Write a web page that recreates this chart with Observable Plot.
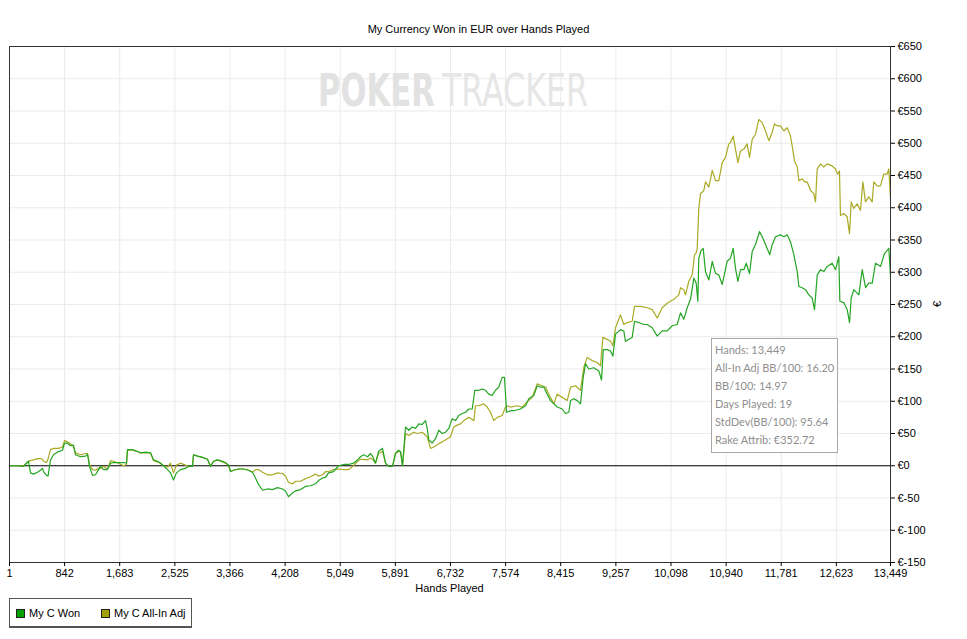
<!DOCTYPE html>
<html>
<head>
<meta charset="utf-8">
<script src="https://cdn.jsdelivr.net/npm/d3@7"></script>
<script src="https://cdn.jsdelivr.net/npm/@observablehq/plot@0.6"></script>
<style>
  html, body { margin: 0; padding: 0; background: #fff; }
  #wrap { position: relative; width: 967px; height: 639px; font-family: "Liberation Sans", Arial, sans-serif; }
  #title { position: absolute; top: 23px; left: 0; width: 957px; text-align: center; font-size: 11px; color: #000; }
  #xlabel { position: absolute; top: 582px; left: 9px; width: 881px; text-align: center; font-size: 11px; color: #000; }
  #ylabel { position: absolute; top: 298px; left: 934px; font-size: 11px; transform: rotate(-90deg); color: #000; }
  #stats { position: absolute; left: 711px; top: 338px; width: 125px; height: 113px; border: 1px solid #a8a8a8; background: #fff;
           font-family: Lato, "Open Sans", sans-serif; font-size: 11px; color: #8f8f8f; }
  #stats div { position: absolute; left: 3px; line-height: 14px; white-space: nowrap; }
  #legend { position: absolute; left: 9px; top: 598px; width: 181px; height: 27px; border: 1px solid #555; border-bottom: 2px solid #555;
            font-size: 11px; color: #000; }
  .item { position: absolute; top: 8px; white-space: nowrap; }
  .sw { display: inline-block; width: 7px; height: 7px; border: 1px solid #222; vertical-align: -1px; margin-right: 4px; }
  svg { position: absolute; left: 0; top: 0; }
</style>
</head>
<body>
<div id="wrap">
  <div id="chart"></div>
  <div id="title"></div>
  <div id="xlabel"></div>
  <div id="ylabel"></div>
  <div id="stats"></div>
  <div id="legend"></div>
</div>
<script>
const titleText = "My Currency Won in EUR over Hands Played";
const xLabel = "Hands Played";
const yLabel = "€";
const seriesNames = ["My C Won", "My C All-In Adj"];
const seriesColors = ["#24a524", "#aaaa24"];
const legendColors = ["#00a000", "#a0a000"];
const statsLines = ["Hands: 13,449", "All-In Adj BB/100: 16.20", "BB/100: 14.97", "Days Played: 19", "StdDev(BB/100): 95.64", "Rake Attrib: €352.72"];
const xTicks = [1, 842, 1683, 2525, 3366, 4208, 5049, 5891, 6732, 7574, 8415, 9257, 10098, 10940, 11781, 12623, 13449];
const yTicks = [-150, -100, -50, 0, 50, 100, 150, 200, 250, 300, 350, 400, 450, 500, 550, 600, 650];

// first part (both series read at the same hands)
const earlyHands = [16,123,215,291,322,367,428,474,505,520,566,589,612,627,673,749,810,841,886,932,978,1008,1085,1161,1192,1222,1268,1314,1360,1390,1436,1497,1543,1589,1665,1741,1787,1802,1879,1955,2001,2077,2153,2199,2260,2306,2352,2413,2459,2504,2550,2611,2688,2733,2794,2810,2871,2947,3023,3069,3115,3176,3222,3298,3344,3375,3420,3497,3573,3649,3710,3756,3802,3863,3939,4016,4092,4168,4214,4260,4321,4367,4443,4519,4596,4672,4718,4779,4825,4871,4947,5023,5100,5176,5252,5313,5359,5405,5466,5512,5542,5588,5634,5695,5741,5786,5847,5893,5939,5970,6000];
const earlyWon = [0,0,-1,7,-11,-13,-10,-7,-4,-9,-15,-16,-1,9,17,22,24,35,35,31,32,17,14,15,18,-1,-15,-14,-6,-1,-6,-6,4,5,5,5,4,25,25,22,20,21,20,9,7,4,0,-6,-11,-22,-11,-6,-4,-1,-1,17,15,13,10,-1,7,9,8,5,1,-9,-7,-5,-5,-7,-10,-19,-29,-38,-36,-37,-34,-36,-39,-48,-42,-39,-37,-32,-31,-28,-23,-19,-18,-11,-9,0,2,2,4,9,14,17,14,19,15,4,22,27,4,-1,-1,19,24,22,0];
const earlyAdj = [0,0,0,7,8,9,11,11,10,7,5,10,20,25,27,27,29,39,37,34,30,20,17,19,19,2,-6,-7,-4,-4,-1,-5,8,7,4,0,2,24,24,22,20,20,20,8,6,4,0,-2,4,-11,1,4,1,-1,-1,17,15,13,10,0,7,9,7,4,1,-9,-7,-5,-5,-7,-10,-6,-6,-10,-14,-14,-11,-12,-16,-26,-28,-24,-24,-20,-17,-13,-16,-14,-9,-9,-6,-5,-6,-6,0,7,10,10,9,12,10,4,19,22,4,-1,-1,19,22,22,0];

// later part, My C Won
const wonHandsLate = [6046,6096,6148,6199,6249,6301,6351,6377,6402,6453,6504,6554,6606,6657,6707,6758,6809,6860,6911,6962,7012,7064,7104,7165,7217,7267,7317,7369,7420,7470,7522,7557,7588,7649,7725,7801,7878,7928,8004,8056,8107,8157,8209,8259,8310,8361,8438,8488,8539,8565,8615,8667,8717,8758,8794,8844,8920,8997,9038,9064,9125,9175,9211,9252,9328,9378,9403,9455,9506,9542,9607,9683,9735,9812,9888,9964,10041,10117,10193,10244,10294,10346,10396,10447,10483,10508,10523,10559,10590,10625,10676,10728,10778,10828,10880,10956,11007,11048,11083,11119,11160,11210,11247,11297,11338,11389,11449,11491,11541,11606,11644,11694,11770,11821,11873,11923,11974,12025,12050,12101,12152,12202,12254,12289,12331,12381,12431,12483,12559,12610,12660,12676,12736,12788,12824,12849,12889,12966,13017,13068,13118,13170,13220,13297,13357,13424,13449];
const wonEurLate = [60,55,60,58,65,64,70,58,40,35,42,55,50,52,58,73,70,78,81,83,88,88,117,117,119,117,111,109,117,122,137,137,83,85,86,88,93,104,109,124,122,122,111,101,96,91,88,81,83,101,104,101,96,137,158,150,152,147,133,180,180,178,170,204,211,209,193,196,199,224,222,219,219,214,201,209,209,217,219,237,227,245,258,291,283,255,322,334,337,301,288,317,298,296,281,317,322,337,306,286,304,304,314,298,332,343,363,355,343,327,343,355,358,355,358,347,327,301,278,276,273,265,260,242,296,304,301,309,314,304,324,255,253,242,222,260,273,265,304,276,283,283,314,309,329,337,293];

// later part, My C All-In Adj
const adjHandsLate = [6046,6096,6173,6223,6301,6377,6428,6478,6554,6606,6682,6732,6784,6834,6885,6936,7012,7089,7114,7165,7241,7293,7343,7394,7445,7522,7572,7598,7649,7751,7827,7903,7980,8056,8132,8183,8234,8310,8361,8438,8514,8565,8641,8717,8768,8819,8895,8971,9022,9058,9125,9175,9211,9252,9328,9378,9429,9506,9542,9633,9735,9812,9888,9964,10041,10142,10218,10244,10294,10320,10370,10422,10457,10483,10498,10523,10549,10574,10600,10625,10676,10728,10778,10828,10880,10931,10981,11007,11048,11083,11119,11160,11210,11260,11297,11338,11389,11439,11491,11541,11592,11644,11678,11720,11770,11821,11873,11923,11948,11983,12025,12050,12101,12136,12177,12228,12278,12304,12330,12381,12430,12482,12558,12609,12644,12670,12685,12735,12787,12823,12849,12888,12940,12991,13027,13067,13117,13169,13194,13246,13296,13346,13397,13423,13449];
const adjEurLate = [50,47,52,50,52,45,27,29,34,37,42,45,60,63,65,70,75,70,93,93,96,91,83,70,75,78,91,93,91,93,91,99,106,127,124,122,111,96,111,106,101,122,124,117,153,168,163,160,155,199,196,193,186,214,234,219,222,224,247,247,245,242,229,245,252,258,265,276,273,265,286,296,327,330,337,399,422,424,427,440,432,458,442,442,470,478,499,501,511,491,470,488,491,499,478,506,514,537,532,519,504,517,530,527,527,519,524,511,496,473,463,442,445,440,440,427,422,409,460,468,463,468,465,460,452,457,388,391,386,360,409,399,406,396,440,409,417,409,440,434,434,452,452,460,414];

const toRows = (hs, vs) => hs.map((h, i) => ({hand: h, eur: vs[i]}));
const won = toRows(earlyHands.concat(wonHandsLate), earlyWon.concat(wonEurLate));
const adj = toRows(earlyHands.concat(adjHandsLate), earlyAdj.concat(adjEurLate));

const chart = Plot.plot({
  width: 967,
  height: 639,
  marginLeft: 9,
  marginRight: 77,
  marginTop: 46,
  marginBottom: 77,
  style: {fontFamily: "Liberation Sans, Arial, sans-serif", fontSize: "11px", color: "#000", background: "transparent"},
  x: {type: "linear", domain: [1, 13449], label: null},
  y: {domain: [-150, 650], label: null},
  marks: [
    Plot.gridX(xTicks, {stroke: "#ebebeb", strokeOpacity: 1}),
    Plot.gridY(yTicks, {stroke: "#ebebeb", strokeOpacity: 1}),
    Plot.ruleY([0], {stroke: "#000", strokeWidth: 1}),
    Plot.line(adj, {x: "hand", y: "eur", stroke: seriesColors[1], strokeWidth: 1.2}),
    Plot.line(won, {x: "hand", y: "eur", stroke: seriesColors[0], strokeWidth: 1.2}),
    Plot.frame({stroke: "#333", strokeWidth: 1}),
    Plot.axisX(xTicks, {tickFormat: d3.format(","), tickSize: 4, tickPadding: 3, label: null}),
    Plot.axisY(yTicks, {anchor: "right", tickFormat: d => "€" + d, tickSize: 4, tickPadding: 3, label: null})
  ]
});
document.getElementById("chart").appendChild(chart);

// watermark, drawn under the lines; each word scaled by transform to its width
const svg = d3.select(chart);
const wm = svg.insert("g", "g[aria-label='line']").attr("aria-label", "watermark");
const wmFont = "'Liberation Sans Narrow', 'DejaVu Sans Condensed', 'Liberation Sans', sans-serif";
const wmWords = [
  {text: "POKER", x: 318, w: 117, bold: true, fill: "#e2e2e2"},
  {text: "TRACKER", x: 442, w: 146, bold: false, fill: "#e6e6e6"}
];
wmWords.forEach(d => {
  const t = wm.append("text").attr("text-anchor", "start")
    .attr("font-family", wmFont).attr("font-size", 44)
    .attr("font-weight", d.bold ? "bold" : "normal")
    .attr("fill", d.fill).text(d.text);
  const natural = t.node().getComputedTextLength() || d.w;
  t.attr("transform", `translate(${d.x},106) scale(${d.w / natural},1)`);
});

document.getElementById("title").textContent = titleText;
document.getElementById("xlabel").textContent = xLabel;
document.getElementById("ylabel").textContent = yLabel;

const stats = document.getElementById("stats");
statsLines.forEach((t, i) => {
  const d = document.createElement("div");
  d.style.top = (4 + i * 18) + "px";
  d.textContent = t;
  stats.appendChild(d);
});

const legend = document.getElementById("legend");
const legendX = [6, 91];
seriesNames.forEach((n, i) => {
  const it = document.createElement("div");
  it.className = "item";
  it.style.left = legendX[i] + "px";
  const sw = document.createElement("span");
  sw.className = "sw";
  sw.style.background = legendColors[i];
  it.appendChild(sw);
  it.appendChild(document.createTextNode(n));
  legend.appendChild(it);
});
</script>
</body>
</html>
